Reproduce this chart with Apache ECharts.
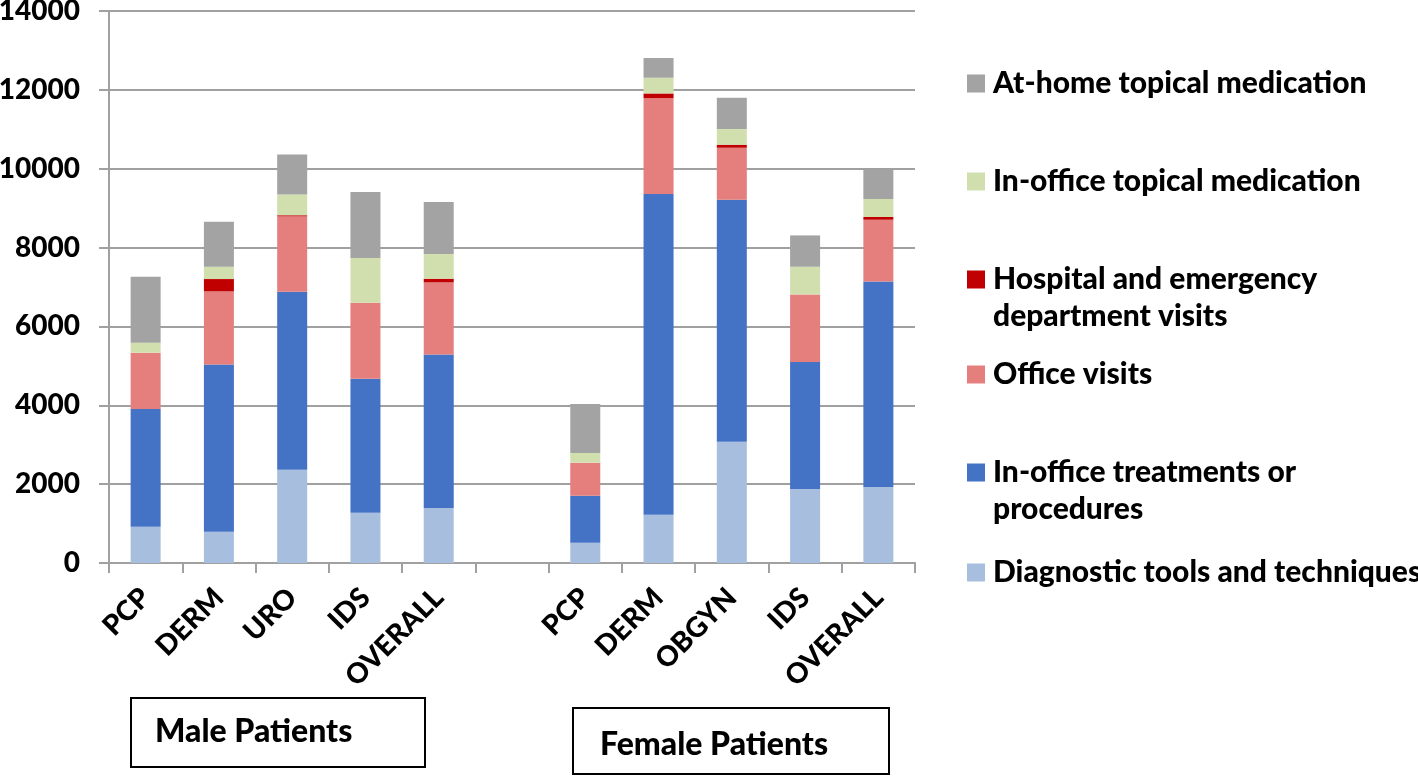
<!DOCTYPE html>
<html>
<head>
<meta charset="utf-8">
<script src="https://cdn.jsdelivr.net/npm/echarts@6/dist/echarts.min.js"></script>
<style>
html,body{margin:0;padding:0;background:#fff;}
#chart{width:1418px;height:776px;}
</style>
</head>
<body>
<div id="chart"></div>
<script>
// ---- data ----
var categories = ['PCP', 'DERM', 'URO', 'IDS', 'OVERALL', '', 'PCP', 'DERM', 'OBGYN', 'IDS', 'OVERALL'];
var yTicks = [0, 2000, 4000, 6000, 8000, 10000, 12000, 14000];
var seriesNames = [
  'Diagnostic tools and techniques',
  'In-office treatments or procedures',
  'Office visits',
  'Hospital and emergency department visits',
  'In-office topical medication',
  'At-home topical medication'
];
var diagnostic        = [920, 794, 2366, 1276, 1395, null, 515, 1225, 3076, 1877, 1927];
var inOfficeTreat     = [2985, 4243, 4514, 3398, 3895, null, 1192, 8133, 6137, 3220, 5215];
var officeVisits      = [1428, 1851, 1910, 1927, 1826, null, 837, 2434, 1319, 1715, 1564];
var hospitalED        = [0, 314, 30, 0, 94, null, 0, 117, 76, 0, 69];
var inOfficeTopical   = [254, 312, 525, 1134, 626, null, 246, 398, 398, 702, 456];
var atHomeTopical     = [1674, 1142, 1015, 1674, 1319, null, 1242, 500, 794, 794, 743];
var groupLabels = ['Male Patients', 'Female Patients'];

var seriesData = [diagnostic, inOfficeTreat, officeVisits, hospitalED, inOfficeTopical, atHomeTopical];
var colors = ['#A7BEDF', '#4472C4', '#E57F7D', '#C00000', '#D1DFAE', '#A3A3A3'];

var FONT = 'Lato';
var chart = echarts.init(document.getElementById('chart'));

var series = seriesNames.map(function (n, i) {
  return {
    name: n,
    type: 'bar',
    stack: 'total',
    barWidth: 30,
    data: seriesData[i],
    itemStyle: { color: colors[i] },
    emphasis: { disabled: true }
  };
});

function singleLegend(name, top) {
  return {
    data: [name],
    orient: 'vertical',
    left: 967,
    top: top,
    padding: 0,
    itemWidth: 18,
    itemHeight: 18,
    icon: 'rect',
    selectedMode: false,
    textStyle: { fontFamily: FONT, fontWeight: 900, fontSize: 30, color: '#000', lineHeight: 37, padding: [0, 0, 0, 3] }
  };
}
function doubleLegend(name, text, top) {
  var l = singleLegend(name, top);
  l.itemHeight = 74;
  l.icon = 'path://M0,9.5H18V27.5H0Z M0,0H0.01V0.01H0Z M0,73.99H0.01V74H0Z';
  l.formatter = function () { return text; };
  return l;
}

var option = {
  animation: false,
  grid: { left: 109, right: 503, top: 11, bottom: 213, containLabel: false, outerBoundsMode: 'none' },
  xAxis: {
    type: 'category',
    data: categories,
    axisLine: { lineStyle: { color: '#A0A0A0', width: 2 } },
    axisTick: { show: true, length: 10, lineStyle: { color: '#A0A0A0', width: 2 } },
    axisLabel: {
      interval: 0, rotate: 45, margin: 30,
      fontFamily: FONT, fontWeight: 900, fontSize: 28, color: '#000'
    }
  },
  yAxis: {
    type: 'value',
    min: yTicks[0], max: yTicks[yTicks.length - 1], interval: 2000,
    axisLine: { show: true, lineStyle: { color: '#A0A0A0', width: 2 } },
    axisTick: { show: true, length: 10, lineStyle: { color: '#A0A0A0', width: 2 } },
    splitLine: { show: true, lineStyle: { color: '#A0A0A0', width: 2 } },
    axisLabel: {
      margin: 29,
      formatter: function (v) { return String(v); },
      fontFamily: FONT, fontWeight: 900, fontSize: 28, color: '#000'
    }
  },
  legend: [
    singleLegend(seriesNames[5], 65),
    singleLegend(seriesNames[4], 163),
    doubleLegend(seriesNames[3], 'Hospital and emergency\ndepartment visits', 261),
    singleLegend(seriesNames[2], 356),
    doubleLegend(seriesNames[1], 'In-office treatments or\nprocedures', 454),
    singleLegend(seriesNames[0], 554)
  ],
  graphic: [
    { type: 'rect', left: 130, top: 697, shape: { width: 294, height: 69 },
      style: { fill: '#fff', stroke: '#000', lineWidth: 2 } },
    { type: 'text', left: 155, top: 735 - 19,
      style: { text: groupLabels[0], font: '900 32px Lato', fill: '#000' } },
    { type: 'rect', left: 572, top: 707, shape: { width: 316, height: 66 },
      style: { fill: '#fff', stroke: '#000', lineWidth: 2 } },
    { type: 'text', left: 600, top: 748 - 19,
      style: { text: groupLabels[1], font: '900 32px Lato', fill: '#000' } }
  ],
  series: series
};
chart.setOption(option);
</script>
</body>
</html>
